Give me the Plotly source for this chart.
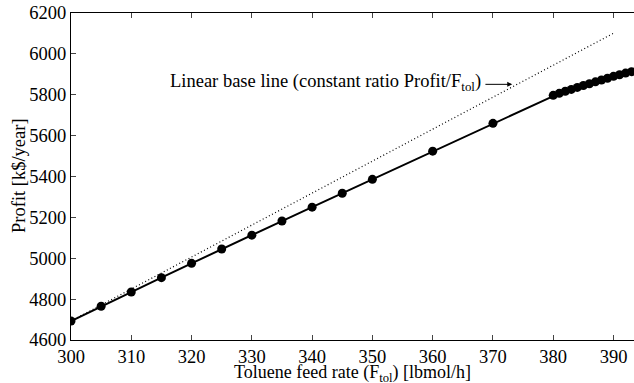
import plotly.graph_objects as go

feed = [300, 305, 310, 315, 320, 325, 330, 335, 340, 345, 350, 360, 370,
        380, 381, 382, 383, 384, 385, 386, 387, 388, 389, 390, 391, 392, 393]
profit = [4693, 4765, 4835, 4905, 4975, 5045, 5113, 5182, 5250, 5318, 5386, 5524, 5660,
          5797, 5807, 5817, 5826, 5836, 5845, 5854, 5863, 5872, 5881, 5890, 5898, 5906, 5913]
base_x = [300, 390]
base_y = [4693, 4693 * 390 / 300]

x_ticks = [300, 310, 320, 330, 340, 350, 360, 370, 380, 390]
y_ticks = [4600, 4800, 5000, 5200, 5400, 5600, 5800, 6000, 6200]

FONT = "Liberation Serif, Times New Roman, serif"
FS = 18.5

fig = go.Figure()
fig.add_trace(go.Scatter(x=base_x, y=base_y, mode="lines",
                         line=dict(color="black", width=1.2, dash="1px,2.5px"), showlegend=False))
fig.add_trace(go.Scatter(x=feed, y=profit, mode="lines+markers",
                         line=dict(color="black", width=2),
                         marker=dict(color="black", size=9), showlegend=False))

fig.add_annotation(x=368.4, y=5860, xref="x", yref="y", showarrow=False, xanchor="right",
                   yanchor="middle",
                   text="Linear base line (constant ratio Profit/F<sub>tol</sub>)",
                   font=dict(family=FONT, size=FS, color="black"))
fig.add_annotation(x=373.2, y=5851, ax=368.5, ay=5851, xref="x", yref="y", axref="x", ayref="y",
                   text="", showarrow=True, arrowhead=2, arrowsize=1, arrowwidth=1,
                   arrowcolor="black")
fig.add_annotation(x=0.5, y=-0.062, xref="paper", yref="paper", showarrow=False,
                   xanchor="center", yanchor="top",
                   text="Toluene feed rate (F<sub>tol</sub>) [lbmol/h]",
                   font=dict(family=FONT, size=18, color="black"))
fig.add_annotation(x=-0.0924, y=0.5046, xref="paper", yref="paper", showarrow=False,
                   xanchor="center", yanchor="middle", textangle=-90,
                   text="Profit [k$/year]",
                   font=dict(family=FONT, size=FS, color="black"))

fig.update_layout(
    width=634, height=383,
    margin=dict(l=71, r=0, t=13, b=43),
    plot_bgcolor="white", paper_bgcolor="white",
    font=dict(family=FONT, size=FS, color="black"),
    xaxis=dict(range=[300, 393.4], tickvals=x_ticks, ticks="inside", ticklen=5,
               showline=True, linecolor="black", linewidth=1, mirror="ticks",
               showgrid=False, zeroline=False, automargin=False,
               tickfont=dict(size=FS)),
    yaxis=dict(range=[4600, 6200], tickvals=y_ticks, ticks="inside", ticklen=5,
               showline=True, linecolor="black", linewidth=1,
               showgrid=False, zeroline=False, automargin=False,
               tickfont=dict(size=FS)),
)

fig.write_html("out.html")
